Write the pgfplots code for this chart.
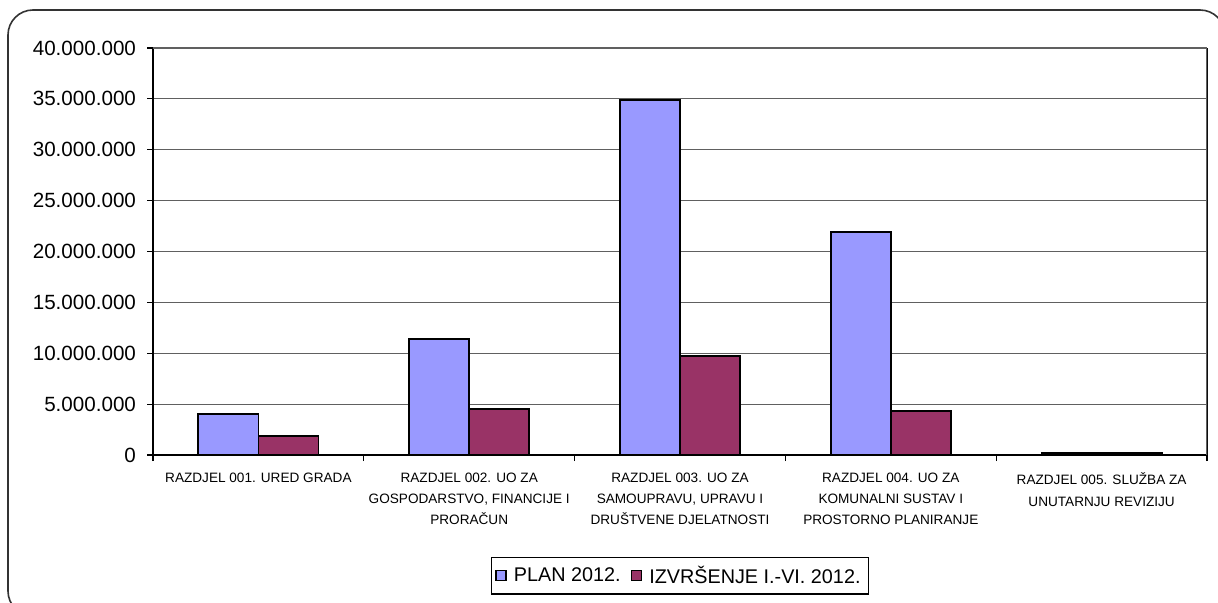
\documentclass[border=0pt]{standalone}
\usepackage{pgfplots}
\pgfplotsset{compat=1.18}
\usepackage{fontspec}
\setmainfont{Liberation Sans}
\definecolor{planc}{HTML}{9999FF}
\definecolor{izvc}{HTML}{993366}
\definecolor{gridc}{HTML}{606060}

\begin{document}
\begin{tikzpicture}
\useasboundingbox (0,0) rectangle (609pt,-301.5pt);
\begin{scope}
  \clip (0,0) rectangle (609pt,-301.5pt);
  \draw[line width=0.8pt, black!80, rounded corners=12.5pt] (4pt,-5pt) rectangle (612.5pt,-308pt);
\end{scope}
\begin{axis}[
    at={(76.5pt,-227.5pt)}, anchor=south west,
    scale only axis, width=527pt, height=203.5pt,
    ybar=0pt, bar width=0.285,
    xmin=-0.5, xmax=4.5, ymin=0, ymax=40000000,
    xtick={0,1,2,3,4},
    major x tick style={draw=none},
    minor xtick={-0.5,0.5,1.5,2.5,3.5,4.5},
    minor x tick style={black, line width=0.6pt},
    minor tick length=3pt,
    xticklabels={
      {RAZDJEL 001. URED GRADA},
      {RAZDJEL 002. UO ZA\\GOSPODARSTVO, FINANCIJE I\\PRORAČUN},
      {RAZDJEL 003. UO ZA\\SAMOUPRAVU, UPRAVU I\\DRUŠTVENE DJELATNOSTI},
      {RAZDJEL 004. UO ZA\\KOMUNALNI SUSTAV I\\PROSTORNO PLANIRANJE},
      {RAZDJEL 005. SLUŽBA ZA\\UNUTARNJU REVIZIJU}},
    xticklabel style={font=\fontsize{6.8}{10.6}\selectfont, align=center, yshift=-2.5pt},
    ytick={0,5000000,...,40000000},
    scaled y ticks=false,
    yticklabel style={font=\fontsize{10.3}{12}\selectfont, xshift=-2pt},
    /pgf/number format/assume math mode=true,
    /pgf/number format/.cd, fixed, precision=0, 1000 sep={.},
    /pgfplots/.cd,
    tick align=outside, major tick length=3pt,
    xtick pos=bottom, ytick pos=left,
    ymajorgrids, grid style={gridc, line width=0.6pt},
    axis line style={gridc, line width=0.6pt},
    axis x line*=bottom,
    separate axis lines,
    x axis line style={black},
    y axis line style={black},
    y tick style={black, line width=0.6pt},
    legend style={at={(0.50,-0.297)}, anchor=center, legend columns=2,
      draw=black, line width=0.6pt, font=\fontsize{9.9}{12}\selectfont,
      inner xsep=2pt,
      /tikz/every even column/.append style={column sep=3pt}},
    legend image code/.code={\draw[#1, line width=0.6pt] (0pt,-2.5pt) rectangle (5pt,2.5pt); \path (6.5pt,0pt);},
  ]
  \draw[gridc, line width=0.6pt] (rel axis cs:0,1) -- (rel axis cs:1,1) -- (rel axis cs:1,0);
  \addplot[fill=planc, draw=black, line width=0.9pt] coordinates {
    (0,4030000) (1,11400000) (2,34900000) (3,21900000) (4,200000)};
  \addlegendentry{PLAN 2012.}
  \addplot[fill=izvc, draw=black, line width=0.9pt] coordinates {
    (0,1870000) (1,4520000) (2,9730000) (3,4320000) (4,180000)};
  \addlegendentry{IZVRŠENJE I.-VI. 2012.}
\end{axis}
\end{tikzpicture}
\end{document}
